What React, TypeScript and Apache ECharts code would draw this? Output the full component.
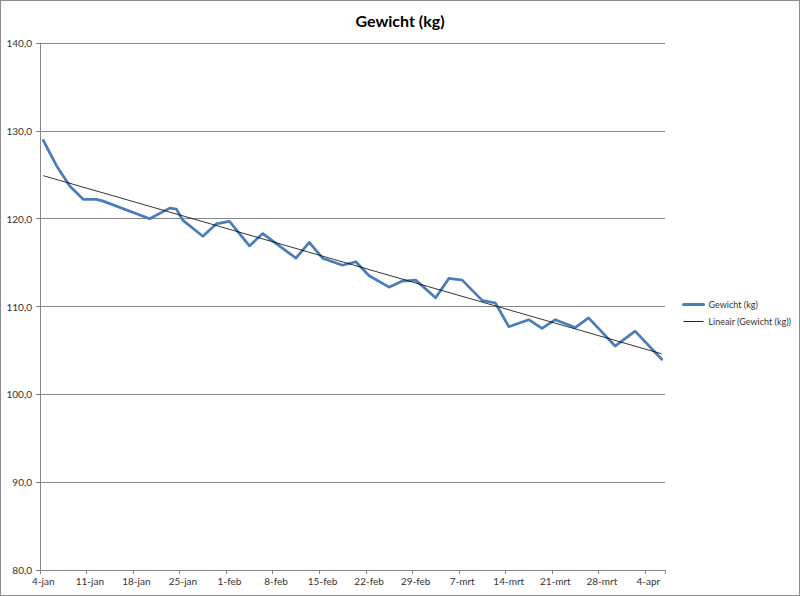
import React, { useEffect, useRef } from "react";
import * as echarts from "echarts";

const measureDates = [
  "4-jan", "6-jan", "8-jan", "10-jan", "12-jan", "13-jan", "20-jan", "23-jan", "24-jan", "25-jan",
  "28-jan", "30-jan", "1-feb", "4-feb", "6-feb", "11-feb", "13-feb", "15-feb", "18-feb", "20-feb",
  "22-feb", "25-feb", "27-feb", "29-feb", "3-mrt", "5-mrt", "7-mrt", "10-mrt", "12-mrt", "14-mrt",
  "17-mrt", "19-mrt", "21-mrt", "24-mrt", "26-mrt", "30-mrt", "2-apr", "6-apr",
];
const weights = [
  128.9, 126.0, 123.7, 122.2, 122.2, 122.0, 120.0, 121.2, 121.1, 119.8,
  118.0, 119.4, 119.7, 116.9, 118.3, 115.5, 117.3, 115.5, 114.7, 115.1,
  113.5, 112.2, 112.9, 113.0, 111.0, 113.2, 113.0, 110.7, 110.4, 107.7,
  108.5, 107.5, 108.5, 107.6, 108.7, 105.5, 107.2, 104.0,
];

// Axis: one category per day from 4 Jan to 6 Apr 2016
const monthNames = ["jan", "feb", "mrt", "apr"];
const axisStart = [2016, 0, 4];
const axisDayCount = 94;

const yTicks = { min: 80, max: 140, interval: 10 };

const seriesName = "Gewicht (kg)";
const trendName = "Lineair (Gewicht (kg))";

function buildCategories(): string[] {
  const out: string[] = [];
  const d0 = new Date(axisStart[0], axisStart[1], axisStart[2]);
  for (let i = 0; i < axisDayCount; i++) {
    const d = new Date(d0.getFullYear(), d0.getMonth(), d0.getDate() + i);
    out.push(d.getDate() + "-" + monthNames[d.getMonth()]);
  }
  return out;
}

export default function App() {
  const ref = useRef<HTMLDivElement>(null);
  useEffect(() => {
    if (!ref.current) return;
    const chart = echarts.init(ref.current, undefined, { renderer: "svg" });
    const categories = buildCategories();
    const pts = measureDates.map((d, i) => [categories.indexOf(d), weights[i]]);
    // least squares linear trend
    const n = pts.length;
    let sx = 0, sy = 0, sxx = 0, sxy = 0;
    pts.forEach(([x, y]) => { sx += x; sy += y; sxx += x * x; sxy += x * y; });
    const b = (n * sxy - sx * sy) / (n * sxx - sx * sx);
    const a = (sy - b * sx) / n;
    const x0 = pts[0][0];
    const x1 = pts[n - 1][0];
    const trend = [[x0, a + b * x0], [x1, a + b * x1]];

    const font = "Lato, 'Open Sans', sans-serif";
    const grey = "#868686";
    chart.setOption({
      animation: false,
      title: {
        text: "Gewicht (kg)",
        left: "center",
        top: 6,
        textStyle: { fontFamily: font, fontSize: 16, fontWeight: "bold", color: "#000" },
      },
      legend: {
        orient: "vertical",
        left: 676,
        top: 294,
        itemWidth: 20,
        itemHeight: 10,
        itemGap: 8,
        itemStyle: { opacity: 0 },
        data: [
          { name: seriesName, lineStyle: { width: 3, color: "#4A7EBB" } },
          { name: trendName, lineStyle: { width: 1, color: "#222" } },
        ],
        textStyle: { fontFamily: font, fontSize: 9, color: "#333" },
      },
      grid: { left: 39, right: 134, top: 42, bottom: 25, containLabel: false },
      xAxis: {
        type: "category",
        data: categories,
        boundaryGap: true,
        axisLine: { lineStyle: { color: grey } },
        axisTick: { show: true, interval: 6, length: 4, lineStyle: { color: grey } },
        axisLabel: { interval: 6, margin: 6, fontFamily: font, fontSize: 10, color: "#333" },
        splitLine: { show: false },
      },
      yAxis: {
        type: "value",
        min: yTicks.min,
        max: yTicks.max,
        interval: yTicks.interval,
        axisLine: { show: true, lineStyle: { color: grey } },
        axisTick: { show: true, length: 4, lineStyle: { color: grey } },
        axisLabel: {
          margin: 8,
          fontFamily: font,
          fontSize: 10,
          color: "#333",
          formatter: (v: number) => v.toFixed(1).replace(".", ","),
        },
        splitLine: { lineStyle: { color: grey, width: 1 } },
      },
      series: [
        {
          name: seriesName,
          type: "line",
          data: pts,
          symbol: "none",
          lineStyle: { color: "#4A7EBB", width: 2.75, cap: "round", join: "round" },
          itemStyle: { color: "#4A7EBB" },
          z: 3,
        },
        {
          name: trendName,
          type: "line",
          data: trend,
          symbol: "none",
          lineStyle: { color: "#000", width: 0.8 },
          itemStyle: { color: "#000" },
          z: 4,
        },
      ],
    });
    return () => chart.dispose();
  }, []);
  return (
    <div
      ref={ref}
      style={{
        position: "absolute",
        left: 0,
        top: 0,
        width: 800,
        height: 596,
        boxSizing: "border-box",
        border: "1px solid #8c8c8c",
        background: "#fff",
      }}
    />
  );
}
